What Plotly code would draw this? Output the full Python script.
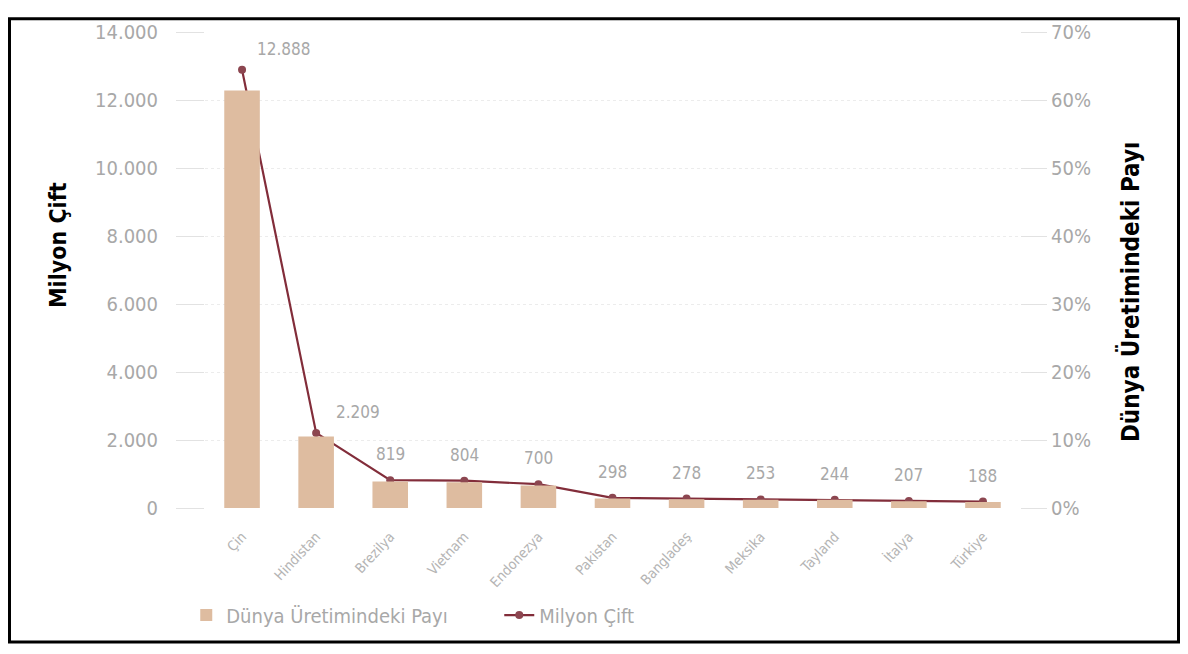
import plotly.graph_objects as go

countries = ["Çin", "Hindistan", "Brezilya", "Vietnam", "Endonezya", "Pakistan",
             "Bangladeş", "Meksika", "Tayland", "İtalya", "Türkiye"]
pairs_million = [12888, 2209, 819, 804, 700, 298, 278, 253, 244, 207, 188]
pairs_labels = ["12.888", "2.209", "819", "804", "700", "298", "278", "253", "244", "207", "188"]
world_share = [61.4, 10.5, 3.9, 3.8, 3.3, 1.4, 1.3, 1.2, 1.2, 1.0, 0.9]

left_ticks = [0, 2000, 4000, 6000, 8000, 10000, 12000, 14000]
left_tick_text = ["0", "2.000", "4.000", "6.000", "8.000", "10.000", "12.000", "14.000"]
right_ticks = [0, 10, 20, 30, 40, 50, 60, 70]
right_tick_text = ["0%", "10%", "20%", "30%", "40%", "50%", "60%", "70%"]

FONT = "DejaVu Sans Condensed, Liberation Sans Narrow, Arial Narrow, sans-serif"
GREY = "#a8a8a8"

# the page body adds an 8px offset; figure coordinates below are screen - 8
W, H = 1172, 638
L, R, T, B = 197, 160, 15, 138
PW, PH = W - L - R, H - T - B

fig = go.Figure()
fig.add_trace(go.Bar(
    x=countries, y=world_share, name="Dünya Üretimindeki Payı",
    yaxis="y2", marker=dict(color="rgb(222,188,160)", line=dict(width=0)),
    width=0.48,
))
fig.add_trace(go.Scatter(
    x=countries, y=pairs_million, name="Milyon Çift",
    mode="lines+markers",
    line=dict(color="rgb(130,45,58)", width=2.2),
    marker=dict(color="rgb(140,70,80)", size=8),
))

annotations = []
for i, (c, v, t) in enumerate(zip(countries, pairs_million, pairs_labels)):
    if i < 2:
        xs, ys = 42, 21
    else:
        xs, ys = 0, 26
    annotations.append(dict(x=c, y=v, xref="x", yref="y", text=t, showarrow=False,
                            xshift=xs, yshift=ys,
                            font=dict(family=FONT, size=17, color=GREY)))

annotations.append(dict(text="<b>Milyon Çift</b>", xref="paper", yref="paper",
                        x=(50 - L) / PW, y=(PH + T - 232) / PH, textangle=-90,
                        xanchor="center", yanchor="middle",
                        showarrow=False, font=dict(family=FONT, size=23, color="black")))
annotations.append(dict(text="<b>Dünya Üretimindeki Payı</b>", xref="paper", yref="paper",
                        x=(1122 - L) / PW, y=(PH + T - 280) / PH, textangle=-90,
                        xanchor="center", yanchor="middle",
                        showarrow=False, font=dict(family=FONT, size=24, color="black")))

fig.update_layout(
    width=W, height=H,
    margin=dict(l=L, r=R, t=T, b=B),
    paper_bgcolor="white", plot_bgcolor="white",
    font=dict(family=FONT, color=GREY, size=16),
    annotations=annotations,
    xaxis=dict(range=[-0.5, 10.5], tickangle=-47, tickfont=dict(size=14, color="#b4b4b4"),
               showgrid=False, showline=False, ticks="outside", ticklen=14, tickcolor="white"),
    yaxis=dict(range=[0, 14000], tickvals=left_ticks, ticktext=left_tick_text,
               showgrid=True, gridcolor="#ececec", griddash="dot", gridwidth=1,
               zeroline=False, showline=False, ticks="outside", ticklen=28,
               ticklabelstandoff=14,
               tickcolor="#e2e2e2", tickfont=dict(size=20, color=GREY)),
    yaxis2=dict(range=[0, 70], tickvals=right_ticks, ticktext=right_tick_text,
                overlaying="y", side="right",
                showgrid=False, zeroline=False, showline=False, ticks="outside", ticklen=26,
                tickcolor="#e2e2e2", tickfont=dict(size=20, color=GREY)),
    legend=dict(orientation="h", x=-0.023, xanchor="left", y=-0.225, yanchor="middle",
                font=dict(size=20, color=GREY), traceorder="normal",
                itemwidth=30, entrywidth=268),
    showlegend=True,
    shapes=[dict(type="rect", xref="paper", yref="paper",
                 x0=(1.5 - L) / PW, x1=(W - 1.5 - L) / PW,
                 y0=(PH + T - (H - 1.5)) / PH, y1=(PH + T - 1.5) / PH,
                 line=dict(color="black", width=3), layer="below")],
)

fig.write_html("out.html")
